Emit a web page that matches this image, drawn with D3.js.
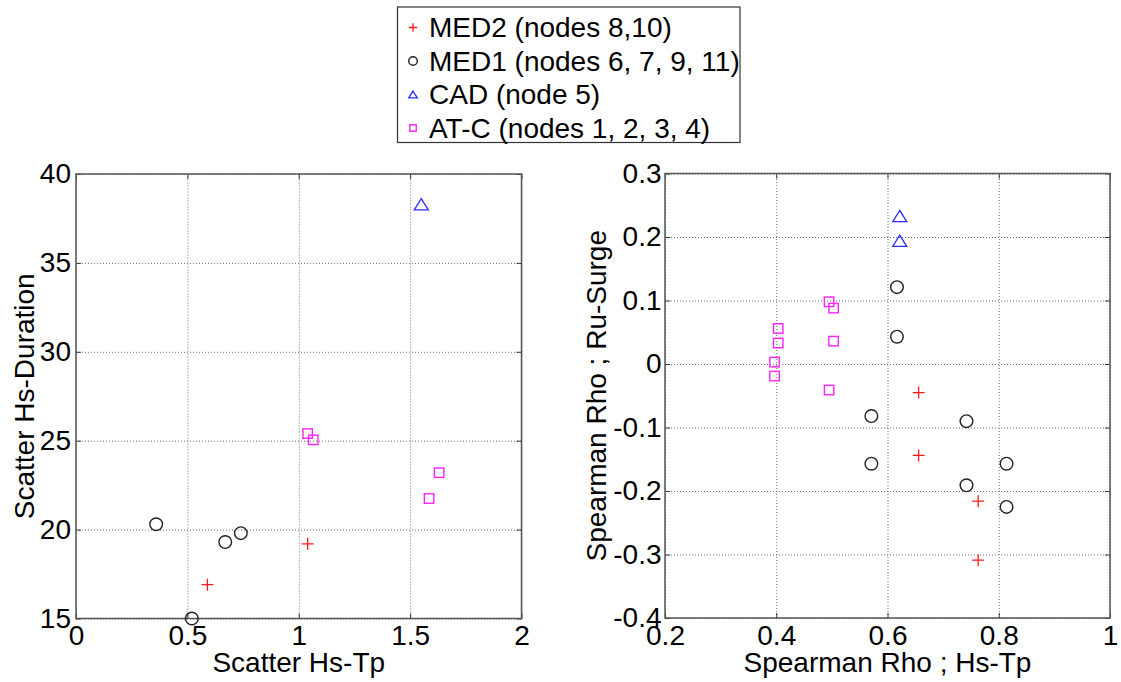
<!DOCTYPE html>
<html lang="en">
<head>
  <meta charset="UTF-8">
  <title>Scatter and Spearman Rho by node group</title>
  <style>
    body { margin: 0; background: #fff; }
    svg text {
      font-family: Arial, "Liberation Sans", sans-serif;
      font-size: 28px;
      fill: #000;
    }
    .grid line { stroke: #6e6e6e; stroke-width: 1; stroke-dasharray: 1,2; }
    .grid .domain { display: none; }
    .ticks .domain { display: none; }
    .ticks line { stroke: #333; stroke-width: 1; }
    .frame { fill: none; stroke: #555; stroke-width: 1.5; }
  </style>
</head>
<body>
  <script src="https://d3js.org/d3.v7.min.js"></script>
  <script>
    // legend labels
    const groupNames = ['MED2 (nodes 8,10)', 'MED1 (nodes 6, 7, 9, 11)', 'CAD (node 5)', 'AT-C (nodes 1, 2, 3, 4)'];
    const groupKeys = ['med2', 'med1', 'cad', 'atc'];

    // tick values
    const leftXTicks = [0, 0.5, 1, 1.5, 2];
    const leftYTicks = [15, 20, 25, 30, 35, 40];
    const rightXTicks = [0.2, 0.4, 0.6, 0.8, 1];
    const rightYTicks = [-0.4, -0.3, -0.2, -0.1, 0, 0.1, 0.2, 0.3];

    // left panel : scatter Hs-Tp (x) vs scatter Hs-Duration (y)
    const med2ScatTp  = [0.59, 1.04];
    const med2ScatDur = [16.9, 19.2];
    const med1ScatTp  = [0.36, 0.52, 0.67, 0.74];
    const med1ScatDur = [20.3, 15.0, 19.3, 19.8];
    const cadScatTp   = [1.55];
    const cadScatDur  = [38.3];
    const atcScatTp   = [1.04, 1.065, 1.585, 1.63];
    const atcScatDur  = [25.4, 25.05, 21.75, 23.2];

    // right panel : spearman rho Hs-Tp (x) vs spearman rho Ru-Surge (y)
    const med2RhoTp    = [0.656, 0.656, 0.763, 0.763];
    const med2RhoSurge = [-0.045, -0.144, -0.216, -0.309];
    const med1RhoTp    = [0.617, 0.617, 0.571, 0.571, 0.742, 0.742, 0.814, 0.814];
    const med1RhoSurge = [0.121, 0.043, -0.082, -0.157, -0.090, -0.191, -0.157, -0.225];
    const cadRhoTp     = [0.622, 0.622];
    const cadRhoSurge  = [0.233, 0.194];
    const atcRhoTp     = [0.495, 0.503, 0.4035, 0.4035, 0.397, 0.397, 0.503, 0.495];
    const atcRhoSurge  = [0.098, 0.088, 0.056, 0.033, 0.003, -0.019, 0.036, -0.041];

    const SVGWIDTH = 1121;
    const SVGHEIGHT = 682;

    const colors = { med2: '#ff1a1a', med1: '#222', cad: '#2a2aff', atc: '#ff22ff' };

    function pairs (xs, ys) {
      return xs.map((v, i) => [v, ys[i]]);
    }

    // draws one marker shape centred on 0,0
    function marker (g, key, s) {
      const c = colors[key];
      if (key === 'med2') {
        g.append('path').attr('d', `M${-s},0H${s}M0,${-s}V${s}`)
          .attr('stroke', c).attr('stroke-width', 1.3).attr('fill', 'none');
      } else if (key === 'med1') {
        g.append('circle').attr('r', s).attr('fill', 'none')
          .attr('stroke', c).attr('stroke-width', 1.4);
      } else if (key === 'cad') {
        const h = s * 0.8;
        g.append('path').attr('d', `M0,${-h}L${s},${h}L${-s},${h}Z`)
          .attr('fill', 'none').attr('stroke', c).attr('stroke-width', 1.3);
      } else {
        const q = s * 0.75;
        g.append('rect').attr('x', -q).attr('y', -q).attr('width', 2 * q).attr('height', 2 * q)
          .attr('fill', 'none').attr('stroke', c).attr('stroke-width', 1.4);
      }
    }

    function drawPanel (svg, p) {
      const x = d3.scaleLinear().domain(p.xDomain).range([p.left, p.right]);
      const y = d3.scaleLinear().domain(p.yDomain).range([p.bottom, p.top]);
      const w = p.right - p.left;
      const h = p.bottom - p.top;

      // dotted grid
      svg.append('g').attr('class', 'grid')
        .attr('transform', `translate(0,${p.bottom})`)
        .call(d3.axisBottom(x).tickValues(p.xTicks).tickSize(-h).tickFormat(''));
      svg.append('g').attr('class', 'grid')
        .attr('transform', `translate(${p.left},0)`)
        .call(d3.axisLeft(y).tickValues(p.yTicks).tickSize(-w).tickFormat(''));

      // inward ticks on all four sides, labels bottom and left
      svg.append('g').attr('class', 'ticks')
        .attr('transform', `translate(0,${p.bottom})`)
        .call(d3.axisBottom(x).tickValues(p.xTicks).tickSizeInner(-5).tickSizeOuter(0)
          .tickPadding(7).tickFormat(d => String(d)));
      svg.append('g').attr('class', 'ticks')
        .attr('transform', `translate(${p.left},0)`)
        .call(d3.axisLeft(y).tickValues(p.yTicks).tickSizeInner(-5).tickSizeOuter(0)
          .tickPadding(p.yPad).tickFormat(d => String(d)));
      svg.append('g').attr('class', 'ticks')
        .attr('transform', `translate(0,${p.top})`)
        .call(d3.axisTop(x).tickValues(p.xTicks).tickSizeInner(-5).tickSizeOuter(0).tickFormat(''));
      svg.append('g').attr('class', 'ticks')
        .attr('transform', `translate(${p.right},0)`)
        .call(d3.axisRight(y).tickValues(p.yTicks).tickSizeInner(-5).tickSizeOuter(0).tickFormat(''));

      // let the css font win over the axis defaults
      svg.selectAll('.ticks').attr('font-size', null).attr('font-family', null);
      svg.selectAll('.ticks text').attr('fill', '#000');

      svg.append('rect').attr('class', 'frame')
        .attr('x', p.left).attr('y', p.top).attr('width', w).attr('height', h);

      // axis titles
      svg.append('text')
        .attr('x', (p.left + p.right) / 2).attr('y', 672)
        .attr('text-anchor', 'middle')
        .text(p.xTitle);
      svg.append('text')
        .attr('transform', `translate(${p.yTitleX},${(p.top + p.bottom) / 2}) rotate(-90)`)
        .attr('text-anchor', 'middle')
        .text(p.yTitle);

      // points
      p.series.forEach(s => {
        svg.append('g').selectAll('g')
          .data(pairs(s.xs, s.ys))
          .join('g')
            .attr('transform', d => `translate(${x(d[0])},${y(d[1])})`)
            .each(function () { marker(d3.select(this), s.key, s.size); });
      });
    }

    function drawLegend (svg) {
      const lg = svg.append('g');
      lg.append('rect')
        .attr('x', 397.5).attr('y', 7).attr('width', 342.5).attr('height', 135.5)
        .attr('fill', '#fff').attr('stroke', '#333').attr('stroke-width', 1.2);
      groupNames.forEach((name, i) => {
        const cy = 27.5 + i * 33.5;
        const m = lg.append('g').attr('transform', `translate(413,${cy})`);
        marker(m, groupKeys[i], 4.3);
        lg.append('text')
          .attr('x', 429).attr('y', cy)
          .attr('dy', '0.35em')
          .text(name);
      });
    }

    const SVG = d3.select('body').append('svg')
      .attr('width', SVGWIDTH).attr('height', SVGHEIGHT)
      .attr('viewBox', `0 0 ${SVGWIDTH} ${SVGHEIGHT}`);

    drawPanel(SVG, {
      left: 76, right: 521.5, top: 174, bottom: 618.5,
      xDomain: [0, 2], yDomain: [15, 40],
      xTicks: leftXTicks, yTicks: leftYTicks, yPad: 5,
      xTitle: 'Scatter Hs-Tp', yTitle: 'Scatter Hs-Duration', yTitleX: 34,
      series: [
        { key: 'med2', xs: med2ScatTp, ys: med2ScatDur, size: 6 },
        { key: 'med1', xs: med1ScatTp, ys: med1ScatDur, size: 6.3 },
        { key: 'cad',  xs: cadScatTp,  ys: cadScatDur,  size: 7 },
        { key: 'atc',  xs: atcScatTp,  ys: atcScatDur,  size: 6.3 }
      ]
    });

    drawPanel(SVG, {
      left: 665, right: 1110, top: 173.5, bottom: 618,
      xDomain: [0.2, 1], yDomain: [-0.4, 0.3],
      xTicks: rightXTicks, yTicks: rightYTicks, yPad: 3.5,
      xTitle: 'Spearman Rho ; Hs-Tp', yTitle: 'Spearman Rho ; Ru-Surge', yTitleX: 606,
      series: [
        { key: 'med2', xs: med2RhoTp, ys: med2RhoSurge, size: 6 },
        { key: 'med1', xs: med1RhoTp, ys: med1RhoSurge, size: 6.3 },
        { key: 'cad',  xs: cadRhoTp,  ys: cadRhoSurge,  size: 7 },
        { key: 'atc',  xs: atcRhoTp,  ys: atcRhoSurge,  size: 6.3 }
      ]
    });

    drawLegend(SVG);
  </script>
</body>
</html>
